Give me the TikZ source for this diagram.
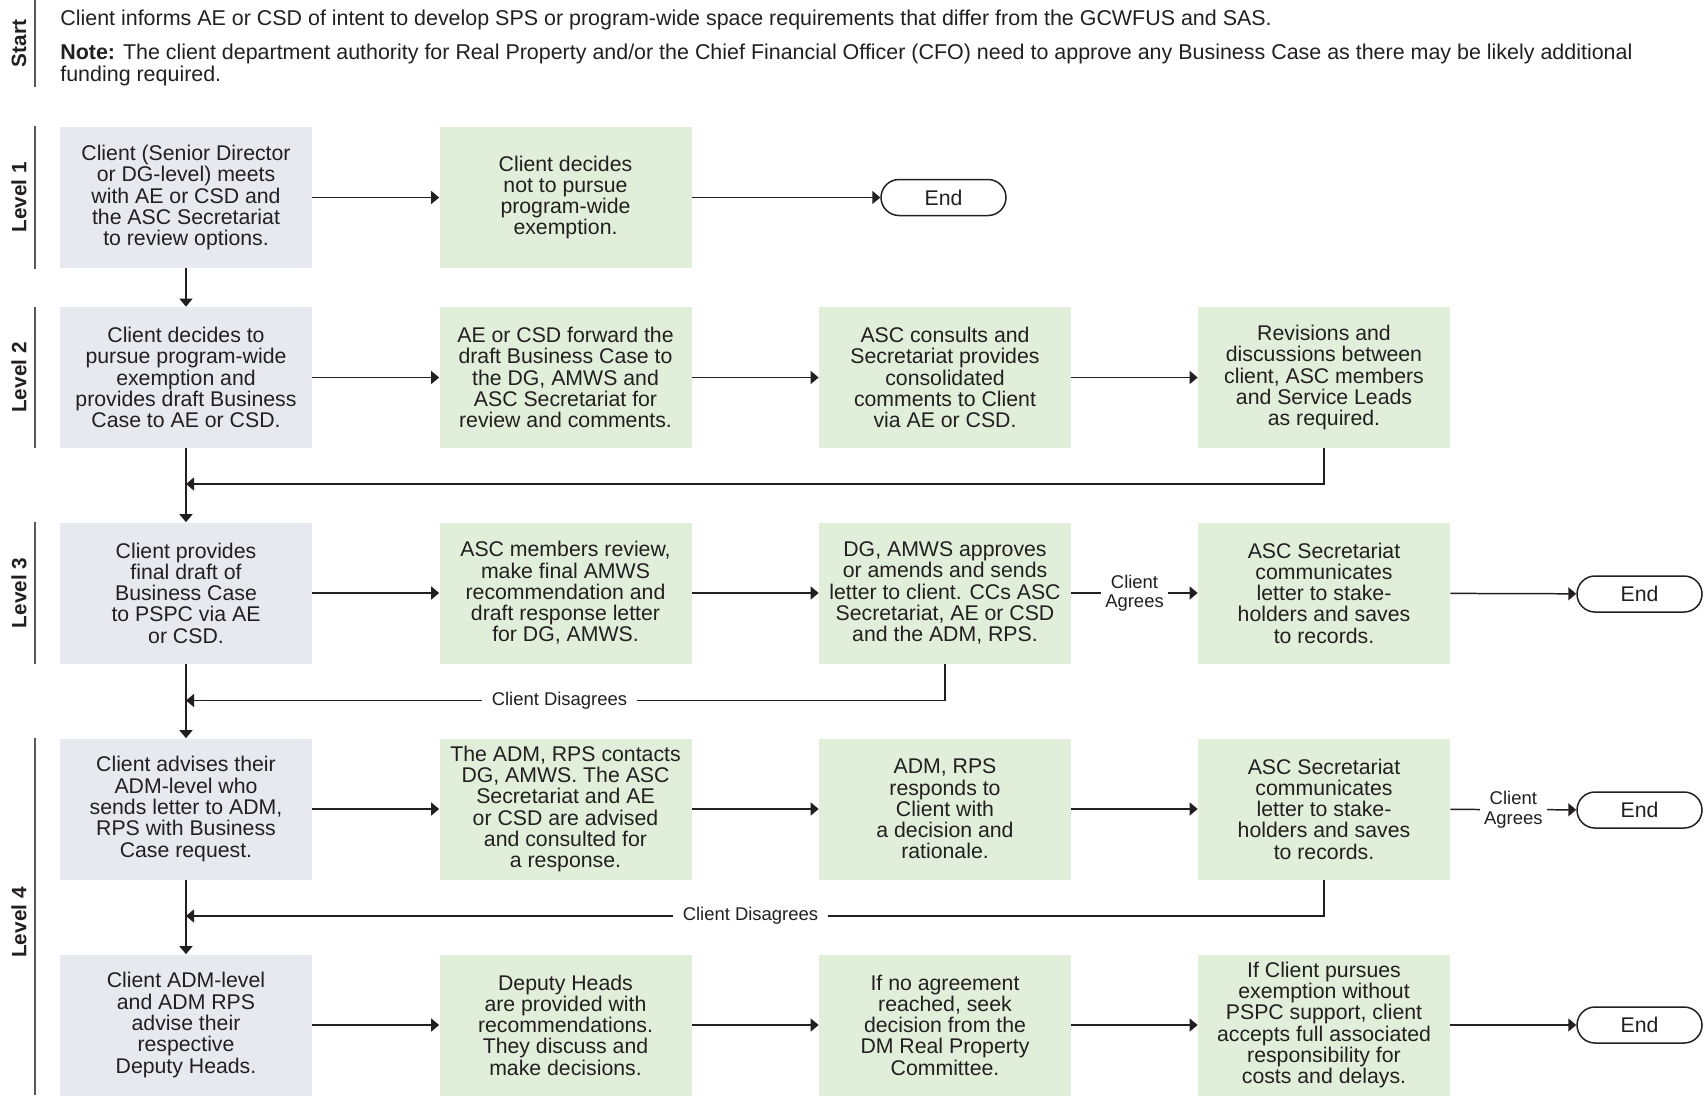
\documentclass[tikz,border=0pt]{standalone}
\usepackage{fontspec}
\setmainfont{Liberation Sans}
\usetikzlibrary{arrows.meta}
\definecolor{boxgray}{HTML}{E8E9EE}
\definecolor{boxgreen}{HTML}{E1EFDA}
\definecolor{ink}{HTML}{231F20}
\definecolor{lane}{HTML}{58595B}

\begin{document}
\begin{tikzpicture}[
    font=\fontsize{12.1}{12.1}\selectfont, text=ink,
    client/.style={fill=boxgray, minimum width=5.04cm, minimum height=2.82cm, align=center, inner sep=0pt},
    pspc/.style={client, fill=boxgreen},
    endbox/.style={draw=ink, line width=0.85pt, rounded corners=0.36cm, minimum width=2.5cm, minimum height=0.72cm, fill=white, inner sep=0pt},
    flow/.style={draw=ink, line width=0.85pt, -{Triangle[length=1.6mm,width=2.6mm]}},
    lanelabel/.style={rotate=90, font=\fontsize{11.8}{11.8}\selectfont\bfseries}
  ]

      \useasboundingbox (0,0) rectangle (34.1,-21.9);

      % lanes
      \begin{scope}[draw=lane, line width=0.9pt]
        \draw (0.7,0)      -- (0.7,-1.74);
        \draw (0.7,-2.52)  -- (0.7,-5.38);
        \draw (0.7,-6.14)  -- (0.7,-8.96);
        \draw (0.7,-10.44) -- (0.7,-13.28);
        \draw (0.7,-14.76) -- (0.7,-21.9);
      \end{scope}
      \node[lanelabel] (s)  at (0.38,-0.87)  {Start};
      \node[lanelabel] (l1) at (0.38,-3.95)  {Level 1};
      \node[lanelabel] (l2) at (0.38,-7.55)  {Level 2};
      \node[lanelabel] (l3) at (0.38,-11.86) {Level 3};
      \node[lanelabel] (l4) at (0.38,-18.45) {Level 4};

      \node[anchor=west, inner sep=0pt, font=\fontsize{12.2}{12.4}\selectfont] (intro) at (1.2,-0.39)
        {Client informs AE or CSD of intent to develop SPS or program-wide space requirements that differ from the GCWFUS and SAS.};
      \node[anchor=west, inner sep=0pt, align=left, font=\fontsize{12.2}{12.4}\selectfont] (note) at (1.2,-1.3)
        {\textbf{Note:} The client department authority for Real Property and/or the Chief Financial Officer (CFO) need to approve any Business Case as there may be likely additional\\funding required.};

      % level 1
      \node[client] (11) at (3.72,-3.95) {Client (Senior Director\\or DG-level) meets\\with AE or CSD and\\the ASC Secretariat\\to review options.};
      \node[pspc]   (12) at (11.31,-3.95) {Client decides\\not to pursue\\program-wide\\exemption.};
      \node[endbox] (13) at (18.87,-3.95) {End};

      % level 2
      \node[client] (21) at (3.72,-7.55) {Client decides to\\pursue program-wide\\exemption and\\provides draft Business\\Case to AE or CSD.};
      \node[pspc]   (22) at (11.31,-7.55) {AE or CSD forward the\\draft Business Case to\\the DG, AMWS and\\ASC Secretariat for\\review and comments.};
      \node[pspc]   (23) at (18.9,-7.55) {ASC consults and\\Secretariat provides\\consolidated\\comments to Client\\via AE or CSD.};
      \node[pspc]   (24) at (26.48,-7.55) {Revisions and\\discussions between\\client, ASC members\\and Service Leads\\as required.};

      % level 3
      \node[client] (31) at (3.72,-11.86) {Client provides\\final draft of\\Business Case\\to PSPC via AE\\or CSD.};
      \node[pspc]   (32) at (11.31,-11.86) {ASC members review,\\make final AMWS\\recommendation and\\draft response letter\\for DG, AMWS.};
      \node[pspc]   (33) at (18.9,-11.86) {DG, AMWS approves\\or amends and sends\\letter to client. CCs ASC\\Secretariat, AE or CSD\\and the ADM, RPS.};
      \node[pspc]   (34) at (26.48,-11.86) {ASC Secretariat\\communicates\\letter to stake-\\holders and saves\\to records.};
      \node[endbox] (35) at (32.79,-11.88) {End};

      % level 4
      \node[client] (41) at (3.72,-16.18) {Client advises their\\ADM-level who\\sends letter to ADM,\\RPS with Business\\Case request.};
      \node[pspc]   (42) at (11.31,-16.18) {The ADM, RPS contacts\\DG, AMWS. The ASC\\Secretariat and AE\\or CSD are advised\\and consulted for\\a response.};
      \node[pspc]   (43) at (18.9,-16.18) {ADM, RPS\\responds to\\Client with\\a decision and\\rationale.};
      \node[pspc]   (44) at (26.48,-16.18) {ASC Secretariat\\communicates\\letter to stake-\\holders and saves\\to records.};
      \node[endbox] (45) at (32.79,-16.2) {End};

      \node[client] (51) at (3.72,-20.5) {Client ADM-level\\and ADM RPS\\advise their\\respective\\Deputy Heads.};
      \node[pspc]   (52) at (11.31,-20.5) {Deputy Heads\\are provided with\\recommendations.\\They discuss and\\make decisions.};
      \node[pspc]   (53) at (18.9,-20.5) {If no agreement\\reached, seek\\decision from the\\DM Real Property\\Committee.};
      \node[pspc]   (54) at (26.48,-20.5) {If Client pursues\\exemption without\\PSPC support, client\\accepts full associated\\responsibility for\\costs and delays.};
      \node[endbox] (55) at (32.79,-20.5) {End};

      \coordinate (j2) at (3.72,-9.68);
      \coordinate (j3) at (3.72,-14.01);
      \coordinate (j4) at (3.72,-18.32);

      \path (11) edge[flow] (12);
      \path (12) edge[flow] (13);
      \path (11) edge[flow] (21);
      \path (21) edge[flow] (22);
      \path (22) edge[flow] (23);
      \path (23) edge[flow] (24);
      \path (21) edge[flow] (31);
      \path (31) edge[flow] (32);
      \path (32) edge[flow] (33);
      \path (34) edge[flow] (35);
      \path (31) edge[flow] (41);
      \path (41) edge[flow] (42);
      \path (42) edge[flow] (43);
      \path (43) edge[flow] (44);
      \path (41) edge[flow] (51);
      \path (51) edge[flow] (52);
      \path (52) edge[flow] (53);
      \path (53) edge[flow] (54);
      \path (54) edge[flow] (55);
      \draw[flow] (24) |- (j2);

      \begin{scope}[every node/.style={fill=white, inner ysep=1pt, font=\fontsize{10.5}{11.1}\selectfont, align=center}]
        \path (33) edge[flow] node[inner xsep=0.08cm] {Client\\Agrees} (34);
        \path (44) edge[flow] node[inner xsep=0.08cm] {Client\\Agrees} (45);
        \draw[flow] (33) |- node[pos=0.754, inner xsep=0.2cm] {Client Disagrees} (j3);
        \draw[flow] (44) |- node[pos=0.752, inner xsep=0.2cm] {Client Disagrees} (j4);
      \end{scope}

    \end{tikzpicture}
\end{document}
